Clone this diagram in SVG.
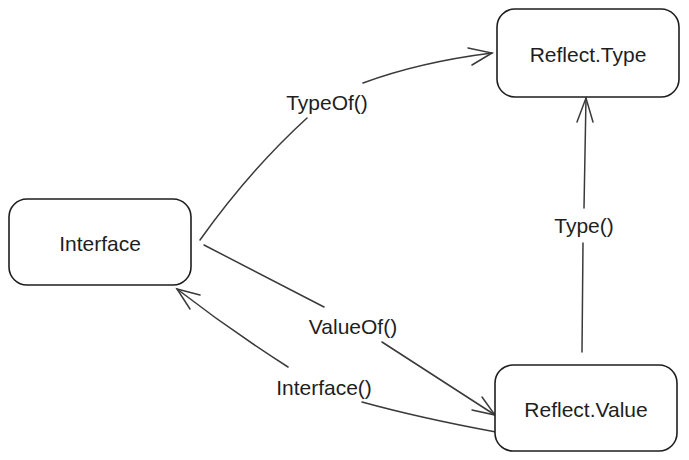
<svg xmlns="http://www.w3.org/2000/svg" width="689" height="460" viewBox="0 0 689 460">
<style>
.box{fill:#ffffff;stroke:#1e1e1e;stroke-width:1.6}
.lbl{font-family:"Liberation Sans","DejaVu Sans",sans-serif;font-size:21px;fill:#1e1e1e;text-anchor:middle;dominant-baseline:central}
.edge{fill:none;stroke:#3a3a3a;stroke-width:1.5;stroke-linecap:round}
</style>
<rect width="689" height="460" fill="#ffffff"/>
<g id="connectors">
  <g id="e-typeof">
    <path class="edge" d="M200,240 Q250,170 307,118"/>
    <path class="edge" d="M363,83 Q420,62 492,53"/>
    <path class="edge" d="M468,48 L492,53 L472,65"/>
    <text class="lbl" x="327" y="102">TypeOf()</text>
  </g>
  <g id="e-valueof">
    <path class="edge" d="M204,245 L324,307"/>
    <path class="edge" d="M382,342 L495,415"/>
    <path class="edge" d="M472,410 L495,415 L482,397"/>
    <text class="lbl" x="353" y="326">ValueOf()</text>
  </g>
  <g id="e-interface">
    <path class="edge" d="M496,432 Q420,418 362,402"/>
    <path class="edge" d="M288,367 Q230,330 177,289"/>
    <path class="edge" d="M200,295 L177,289 L190,309"/>
    <text class="lbl" x="324" y="387">Interface()</text>
  </g>
  <g id="e-type">
    <path class="edge" d="M582,352 L583,243"/>
    <path class="edge" d="M584,208 L586,98"/>
    <path class="edge" d="M577,122 L586,98 L593,122"/>
    <text class="lbl" x="584" y="225">Type()</text>
  </g>
</g>
<g id="interface">
  <rect class="box" x="9" y="199" width="182" height="86" rx="18"/>
  <text class="lbl" x="100" y="243">Interface</text>
</g>
<g id="reflect-type">
  <rect class="box" x="497" y="9" width="182" height="88" rx="18"/>
  <text class="lbl" x="588" y="54">Reflect.Type</text>
</g>
<g id="reflect-value">
  <rect class="box" x="495" y="365" width="182" height="86" rx="18"/>
  <text class="lbl" x="586" y="409">Reflect.Value</text>
</g>
</svg>
